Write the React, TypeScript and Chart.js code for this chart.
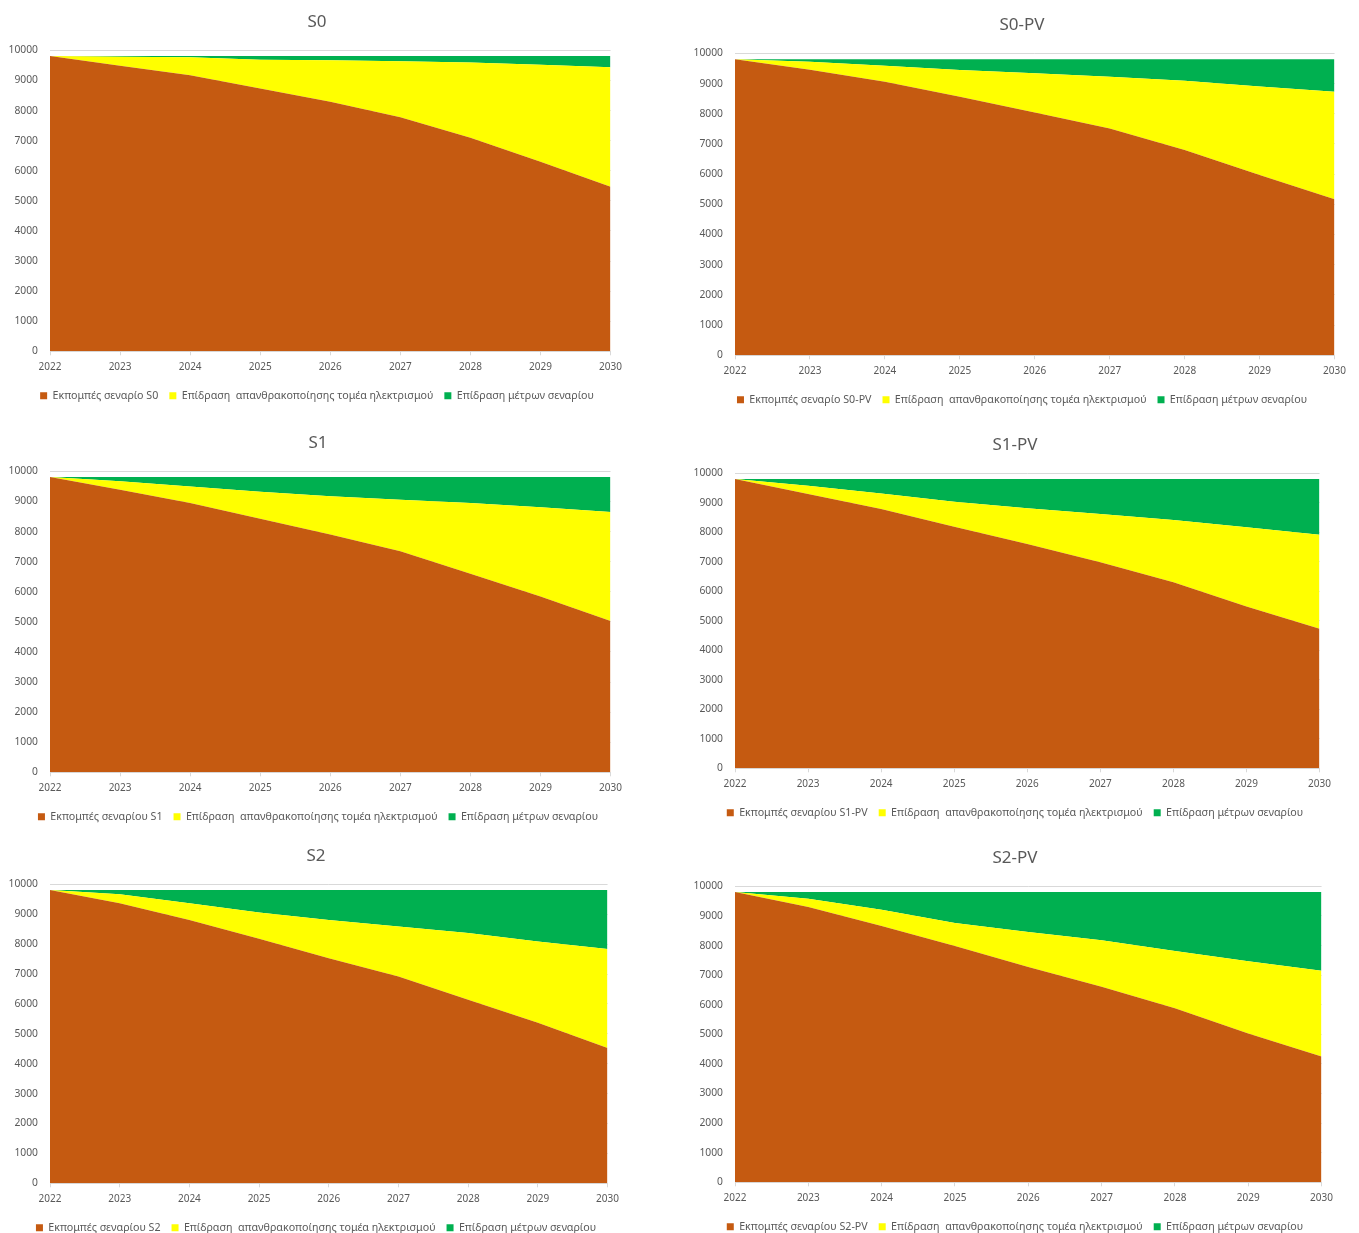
import React, { useEffect, useRef } from "react";
import { Chart, registerables } from "chart.js";

Chart.register(...registerables);

const YEARS = ["2022", "2023", "2024", "2025", "2026", "2027", "2028", "2029", "2030"];
const Y_MIN = 0;
const Y_MAX = 10000;
const Y_STEP = 1000;

const LABEL_DECARB = "Επίδραση  απανθρακοποίησης τομέα ηλεκτρισμού";
const LABEL_MEASURES = "Επίδραση μέτρων σεναρίου";

// S0
const S0_EMISSIONS = [9810, 9490, 9170, 8730, 8290, 7780, 7100, 6300, 5470];
const S0_DECARB = [0, 300, 600, 960, 1380, 1860, 2500, 3220, 3970];
const S0_MEASURES = [0, 20, 40, 120, 140, 170, 210, 290, 370];
// S0-PV
const S0PV_EMISSIONS = [9810, 9460, 9060, 8560, 8040, 7510, 6800, 5970, 5170];
const S0PV_DECARB = [0, 260, 530, 890, 1300, 1720, 2290, 2930, 3560];
const S0PV_MEASURES = [0, 90, 220, 360, 470, 580, 720, 910, 1080];
// S1
const S1_EMISSIONS = [9810, 9390, 8950, 8430, 7900, 7350, 6600, 5840, 5030];
const S1_DECARB = [0, 280, 550, 890, 1270, 1710, 2350, 2970, 3620];
const S1_MEASURES = [0, 140, 310, 490, 640, 750, 860, 1000, 1160];
// S1-PV
const S1PV_EMISSIONS = [9810, 9300, 8790, 8190, 7610, 6990, 6310, 5490, 4730];
const S1PV_DECARB = [0, 280, 530, 850, 1210, 1630, 2110, 2680, 3190];
const S1PV_MEASURES = [0, 230, 490, 770, 990, 1190, 1390, 1640, 1890];
// S2
const S2_EMISSIONS = [9810, 9370, 8810, 8180, 7530, 6920, 6140, 5370, 4530];
const S2_DECARB = [0, 300, 560, 880, 1280, 1670, 2230, 2720, 3310];
const S2_MEASURES = [0, 140, 440, 750, 1000, 1220, 1440, 1720, 1970];
// S2-PV
const S2PV_EMISSIONS = [9810, 9300, 8660, 7990, 7280, 6610, 5880, 5030, 4250];
const S2PV_DECARB = [0, 280, 550, 770, 1180, 1570, 1940, 2440, 2900];
const S2PV_MEASURES = [0, 230, 600, 1050, 1350, 1630, 1990, 2340, 2660];

const BROWN = "#C55A11";
const YELLOW = "#FFFF00";
const GREEN = "#00B050";
const TEXT = "#595959";
const FONT = "'Noto Sans', 'Open Sans', sans-serif";

type Panel = {
  title: string;
  emLabel: string;
  em: number[];
  dec: number[];
  mea: number[];
  left: number;
  top: number;
  width: number;
  height: number;
  axisWidth: number;
};

const PANELS: Panel[] = [
  { title: "S0", emLabel: "Εκπομπές σεναρίο S0", em: S0_EMISSIONS, dec: S0_DECARB, mea: S0_MEASURES, left: 6, top: 0, width: 622, height: 413, axisWidth: 44 },
  { title: "S0-PV", emLabel: "Εκπομπές σεναρίο S0-PV", em: S0PV_EMISSIONS, dec: S0PV_DECARB, mea: S0PV_MEASURES, left: 692, top: 3, width: 660, height: 414, axisWidth: 43 },
  { title: "S1", emLabel: "Εκπομπές σεναρίου S1", em: S1_EMISSIONS, dec: S1_DECARB, mea: S1_MEASURES, left: 8, top: 421, width: 620, height: 413, axisWidth: 42 },
  { title: "S1-PV", emLabel: "Εκπομπές σεναρίου S1-PV", em: S1PV_EMISSIONS, dec: S1PV_DECARB, mea: S1PV_MEASURES, left: 693, top: 423, width: 644, height: 407, axisWidth: 42 },
  { title: "S2", emLabel: "Εκπομπές σεναρίου S2", em: S2_EMISSIONS, dec: S2_DECARB, mea: S2_MEASURES, left: 7, top: 834, width: 618, height: 411, axisWidth: 43 },
  { title: "S2-PV", emLabel: "Εκπομπές σεναρίου S2-PV", em: S2PV_EMISSIONS, dec: S2PV_DECARB, mea: S2PV_MEASURES, left: 691, top: 836, width: 648, height: 408, axisWidth: 44 },
];

function AreaPanel({ p }: { p: Panel }) {
  const ref = useRef<HTMLCanvasElement | null>(null);
  useEffect(() => {
    if (!ref.current) return;
    const chart = new Chart(ref.current, {
      type: "line",
      data: {
        labels: YEARS,
        datasets: [
          { label: p.emLabel, data: p.em, backgroundColor: BROWN, borderColor: BROWN, borderWidth: 0, fill: "origin", pointRadius: 0, tension: 0 },
          { label: LABEL_DECARB, data: p.dec, backgroundColor: YELLOW, borderColor: YELLOW, borderWidth: 0, fill: "-1", pointRadius: 0, tension: 0 },
          { label: LABEL_MEASURES, data: p.mea, backgroundColor: GREEN, borderColor: GREEN, borderWidth: 0, fill: "-1", pointRadius: 0, tension: 0 },
        ],
      },
      options: {
        animation: false,
        responsive: false,
        maintainAspectRatio: false,
        layout: { padding: { left: 0, right: 0, top: 4, bottom: 2 } },
        plugins: {
          title: { display: true, text: p.title, color: TEXT, font: { family: FONT, size: 17, weight: "normal" }, padding: { top: 8, bottom: 18 } },
          legend: {
            position: "bottom",
            labels: { color: TEXT, font: { family: FONT, size: 10.7 }, boxWidth: 7, boxHeight: 7, padding: 11 },
          },
          tooltip: { enabled: false },
        },
        scales: {
          x: {
            offset: false,
            grid: { display: true, drawOnChartArea: false, drawTicks: true, tickLength: 4, color: "#D9D9D9" },
            border: { display: true, color: "#D9D9D9" },
            ticks: { color: TEXT, font: { family: FONT, size: 10 }, maxRotation: 0, padding: 6 },
          },
          y: {
            stacked: true,
            min: Y_MIN,
            max: Y_MAX,
            ticks: { stepSize: Y_STEP, color: TEXT, font: { family: FONT, size: 10.3 }, padding: 12, callback: (v: any) => String(v) },
            grid: { color: "#D9D9D9", drawTicks: false },
            border: { display: false },
            afterFit: (scale: any) => {
              scale.width = p.axisWidth;
            },
          },
        },
      },
    });
    return () => chart.destroy();
  }, [p]);
  return (
    <div style={{ position: "absolute", left: p.left, top: p.top, width: p.width, height: p.height }}>
      <canvas ref={ref} width={p.width} height={p.height} />
    </div>
  );
}

export default function App() {
  return (
    <div style={{ position: "absolute", left: 0, top: 0, width: 1359, height: 1233, background: "#fff", overflow: "hidden" }}>
      {PANELS.map((p) => (
        <AreaPanel key={p.title} p={p} />
      ))}
    </div>
  );
}
